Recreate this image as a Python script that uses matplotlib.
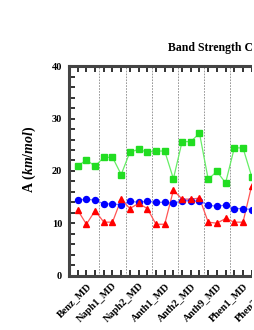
import matplotlib as mpl
mpl.use('Agg')
import matplotlib.pyplot as plt
import numpy as np
from matplotlib.patches import Rectangle

plt.rcParams['font.family'] = ['Liberation Serif', 'DejaVu Serif']
plt.rcParams['font.weight'] = 'bold'
plt.rcParams['mathtext.fontset'] = 'custom'
plt.rcParams['mathtext.rm'] = 'Liberation Serif:bold'
plt.rcParams['mathtext.it'] = 'Liberation Serif:italic:bold'

groups = ['Benz_MD', 'Naph1_MD', 'Naph2_MD', 'Anth1_MD', 'Anth2_MD',
          'Anth9_MD', 'Phen1_MD', 'Phen2_MD']

# values per point, 3 points per molecule group (last group only partly visible)
green = [20.9, 22.1, 20.9, 22.6, 22.6, 19.3, 23.6, 24.1, 23.6, 23.8, 23.8,
         18.5, 25.6, 25.6, 27.2, 18.4, 19.9, 17.7, 24.4, 24.4, 18.9, 23.0,
         23.0, 20.0]
blue = [14.4, 14.6, 14.4, 13.7, 13.7, 13.5, 14.2, 14.0, 14.2, 14.0, 14.0,
        13.8, 14.3, 14.3, 14.2, 13.5, 13.2, 13.5, 12.8, 12.8, 12.6, 12.4,
        12.4, 12.2]
red = [12.5, 9.8, 12.4, 10.2, 10.2, 14.6, 12.8, 13.8, 12.8, 9.8, 9.8,
       16.3, 14.6, 14.6, 14.8, 10.2, 10.0, 10.9, 10.2, 10.2, 17.2, 14.0,
       14.0, 12.0]

x = np.arange(1, len(green) + 1)

fig = plt.figure(figsize=(2.55, 3.3), dpi=100)
ax = fig.add_axes([69 / 255, 54.5 / 330, 217.5 / 255, 209.2 / 330])

ax.plot(x, green, '-', color='#66ee66', lw=0.9, zorder=3)
ax.plot(x, green, 's', color='#22dd22', ms=3.8, mec='#22dd22', zorder=4)
ax.plot(x, blue, '-', color='#7777ff', lw=0.9, zorder=3)
ax.plot(x, blue, 'o', color='#0000ff', ms=4.3, zorder=4)
ax.plot(x, red, '-', color='#ff5555', lw=0.9, zorder=3)
ax.plot(x, red, '^', color='#ff0000', ms=4.3, zorder=4)

for k in range(1, len(groups)):
    ax.axvline(3 * k + 0.5, color='#888888', lw=0.6, ls=(0, (2, 1.5)), zorder=1)

ax.set_xlim(0, 25)
ax.set_ylim(0, 40)

ax.set_xticks([3 * i + 2 for i in range(len(groups))])
ax.set_xticklabels(groups, rotation=45, ha='right', rotation_mode='anchor',
                   fontsize=7.5, fontweight='bold')
ax.set_xticks(x, minor=True)
ax.set_yticks([0, 10, 20, 30, 40])
ax.set_yticklabels(['0', '10', '20', '30', '40'], fontsize=7.5, fontweight='bold')
ax.set_yticks(np.arange(0, 41, 2), minor=True)

ax.tick_params(axis='x', which='both', direction='in', top=True, bottom=True,
               length=4, width=1.4, color='#333333', pad=4)
ax.tick_params(axis='y', which='both', direction='in', left=True, right=False,
               length=4, width=1.4, color='#333333', pad=5)

for s in ax.spines.values():
    s.set_linewidth(2.2)
    s.set_color('#444444')
ax.spines['right'].set_visible(False)

ax.set_ylabel(r'$\mathrm{A\ }\mathit{(km/mol)}$', fontsize=10)
ax.yaxis.set_label_coords(-0.143, 0.557)

fig.text(168 / 255, 1 - 48 / 330, 'Band Strength Comparison', ha='left',
         va='center', fontsize=8.5, fontweight='bold')

# the source picture is a crop with a thin white margin on its right
fig.patches.append(Rectangle((252 / 255, 0), 3 / 255, 1, transform=fig.transFigure,
                             facecolor='white', edgecolor='none', zorder=10))

fig.savefig('out.png', dpi=100)
